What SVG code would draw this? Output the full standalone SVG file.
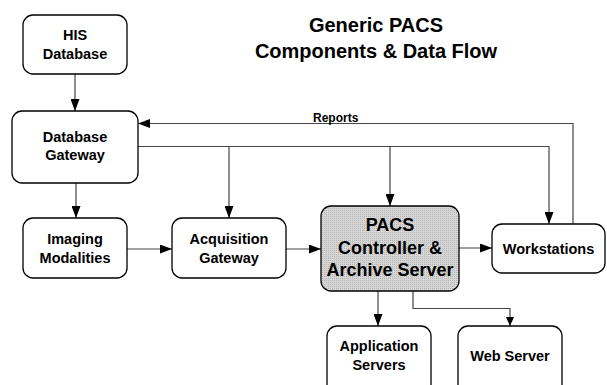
<svg xmlns="http://www.w3.org/2000/svg" width="607" height="385" viewBox="0 0 607 385">
<style>
.box{fill:#fff;stroke:#000;stroke-width:1.3}
.t{font-family:"Liberation Sans",Arial,sans-serif;font-weight:bold;font-size:14.5px;fill:#000;text-anchor:middle}
.tb{font-size:18px}
.title{font-family:"Liberation Sans",Arial,sans-serif;font-weight:bold;font-size:20px;fill:#000;text-anchor:middle}
.lbl{font-family:"Liberation Sans",Arial,sans-serif;font-weight:bold;font-size:12px;fill:#000}
.c{fill:none;stroke:#444;stroke-width:1.2}
</style>
<defs>
<marker id="ah" markerUnits="userSpaceOnUse" markerWidth="12" markerHeight="9" refX="12" refY="4.5" orient="auto">
<path d="M0,0 L12,4.5 L0,9 z" fill="#000"/>
</marker>
<marker id="ahs" markerUnits="userSpaceOnUse" markerWidth="9" markerHeight="8" refX="9" refY="4" orient="auto">
<path d="M0,0 L9,4 L0,8 z" fill="#000"/>
</marker>
<pattern id="dots" width="2" height="2" patternUnits="userSpaceOnUse">
<rect width="2" height="2" fill="#d6d6d6"/>
<rect width="1" height="1" fill="#b4b4b4"/>
</pattern>
</defs>
<text class="title" x="376" y="32">Generic PACS</text>
<text class="title" x="376" y="58">Components &amp; Data Flow</text>
<g id="connectors">
<path class="c" d="M75,74 V111" marker-end="url(#ah)"/>
<path class="c" d="M573,224 V123.5 H138" marker-end="url(#ah)"/>
<path class="c" d="M138,146.5 H549 V224" marker-end="url(#ah)"/>
<path class="c" d="M229,146.5 V218" marker-end="url(#ah)"/>
<path class="c" d="M390,146.5 V206" marker-end="url(#ah)"/>
<path class="c" d="M76,183 V218" marker-end="url(#ah)"/>
<path class="c" d="M127,249 H172" marker-end="url(#ah)"/>
<path class="c" d="M286,249 H321" marker-end="url(#ah)"/>
<path class="c" d="M459,248 H492" marker-end="url(#ah)"/>
<path class="c" d="M378,291 V326" marker-end="url(#ah)"/>
<path class="c" d="M413,291 V308.5 H510 V326" marker-end="url(#ahs)"/>
<text class="lbl" x="313" y="122">Reports</text>
</g>
<g id="his">
<rect class="box" x="23" y="15" width="104" height="59" rx="10"/>
<text class="t" x="75" y="40">HIS</text>
<text class="t" x="75" y="59">Database</text>
</g>
<g id="dbgateway">
<rect class="box" x="12" y="111" width="126" height="72" rx="10"/>
<text class="t" x="75" y="142">Database</text>
<text class="t" x="75" y="160">Gateway</text>
</g>
<g id="imaging">
<rect class="box" x="23" y="218" width="104" height="60" rx="10"/>
<text class="t" x="75" y="244">Imaging</text>
<text class="t" x="75" y="262.5">Modalities</text>
</g>
<g id="acquisition">
<rect class="box" x="172" y="218" width="114" height="60" rx="10"/>
<text class="t" x="229" y="244">Acquisition</text>
<text class="t" x="229" y="262.5">Gateway</text>
</g>
<g id="pacs">
<rect x="321" y="206" width="138" height="85" rx="10" fill="url(#dots)" stroke="#000" stroke-width="1.3"/>
<text class="t tb" x="390" y="231">PACS</text>
<text class="t tb" x="390" y="254">Controller &amp;</text>
<text class="t tb" x="390" y="276">Archive Server</text>
</g>
<g id="workstations">
<rect class="box" x="492" y="224" width="113" height="49" rx="10"/>
<text class="t" x="548.5" y="253.5">Workstations</text>
</g>
<g id="appservers">
<rect class="box" x="327" y="326" width="104" height="70" rx="10"/>
<text class="t" x="379" y="351">Application</text>
<text class="t" x="379" y="370">Servers</text>
</g>
<g id="webserver">
<rect class="box" x="458" y="326" width="104" height="70" rx="10"/>
<text class="t" x="510" y="361">Web Server</text>
</g>
</svg>
